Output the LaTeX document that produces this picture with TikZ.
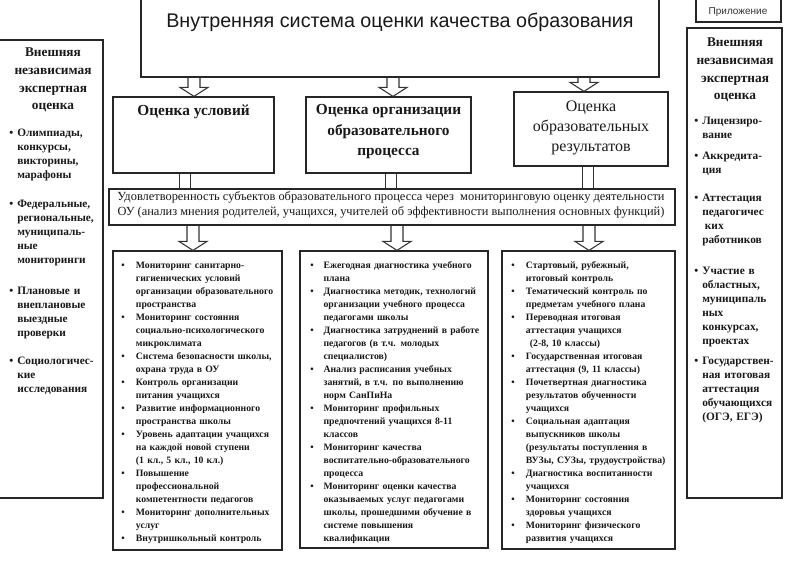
\documentclass[tikz,border=0pt]{standalone}
\usepackage{fontspec}
\setmainfont{Liberation Serif}
\newfontfamily\sansfont{Liberation Sans}
\usetikzlibrary{calc}
\tikzset{
  frame/.style={draw=black!85, line width=0.9pt, inner sep=0pt, rectangle},
  conn/.style={draw=black!80, line width=0.8pt, line join=miter},
  shaft/.style={draw=black!80, line width=0.8pt, double=white, double distance=8pt},
  headtxt/.style={font=\bfseries\fontsize{11.5}{15.4}\selectfont, align=center, inner sep=0pt, text=black!90},
  headtxtl/.style={font=\fontsize{12}{15}\selectfont, align=center, inner sep=0pt, text=black!90},
  sidehead/.style={font=\bfseries\fontsize{10}{13.2}\selectfont, align=center, inner sep=0pt, text=black!90},
  sideitem/.style={font=\bfseries\fontsize{8.5}{10.5}\selectfont, anchor=north west, align=left, inner sep=0pt, text width=68pt, text=black!90},
  listtxt/.style={font=\bfseries\fontsize{7.3}{9.75}\selectfont, anchor=north west, align=left, inner sep=0pt, text=black!90},
}
\newcommand\boxat[5]{\node[frame, minimum width={(#4-(#2))*0.75pt}, minimum height={(#5-(#3))*0.75pt}] (#1) at ({(#2+#4)/2},{(#3+#5)/2}) {};}
\newcommand\hollow[2]{\path #1 coordinate (hs) #2 coordinate (he);
 \draw[conn] ($(hs)+(-6,0)$) -- ($(he)+(-6,-9)$) -- ($(he)+(-14,-9)$) -- (he) -- ($(he)+(14,-9)$) -- ($(he)+(6,-9)$) -- ($(hs)+(6,0)$);}
\newcommand\bul[2]{\par\noindent\hangindent=#1\hangafter=1\makebox[#1][l]{\textbullet}{\let\\\newline#2}\par}
\begin{document}
\begin{tikzpicture}[x=0.75pt,y=-0.75pt]
\useasboundingbox (0,0) rectangle (788,580);
\fill[white] (0,0) rectangle (788,580);
% boxes
\boxat{title}{141}{-2}{659}{77}
\boxat{appx}{696}{-2}{781}{22}
\boxat{left}{-1}{40}{103}{498}
\boxat{right}{687}{28}{782}{498}
\boxat{b1}{113}{97}{274}{173}
\boxat{b2}{306}{97}{471}{173}
\boxat{b3}{514}{92}{668}{166}
\boxat{sat}{109}{189}{675}{225}
\boxat{la}{113}{251}{282}{550}
\boxat{lb}{300}{251}{488}{548}
\boxat{lc}{502}{251}{675}{549}
% texts
\node[font=\sansfont\fontsize{14.8}{16}\selectfont, inner sep=0pt, text=black!90] (titlet) at (400,22) {Внутренняя система оценки качества образования};
\node[font=\sansfont\fontsize{7.5}{9}\selectfont, inner sep=0pt, text=black!80] (appxt) at (738,12) {Приложение};
\node[headtxt] (b1t) at (193.5,112) {Оценка условий};
\node[headtxt] (b2t) at (388.5,132) {Оценка организации\\образовательного\\процесса};
\node[headtxtl] (b3t) at (591,128) {Оценка\\образовательных\\результатов};
\node[font=\fontsize{9.3}{11.25}\selectfont, align=center, inner sep=0pt, text=black!90] (satt) at (391,205) {Удовлетворенность субъектов образовательного процесса через~ мониторинговую оценку деятельности\\ОУ (анализ мнения родителей, учащихся, учителей об эффективности выполнения основных функций)};
% side boxes
\node[sidehead] (lefth) at (53,80) {Внешняя\\независимая\\экспертная\\оценка};
\node[sideitem] (l1) at (9,122) {\bul{6pt}{Олимпиады,\\конкурсы,\\викторины,\\марафоны}};
\node[sideitem] (l2) at (9,193) {\bul{6pt}{Федеральные,\\региональные,\\муниципаль-\\ные\\мониторинги}};
\node[sideitem] (l3) at (9,280) {\bul{6pt}{Плановые и\\внеплановые\\выездные\\проверки}};
\node[sideitem] (l4) at (9,350) {\bul{6pt}{Социологичес-\\кие\\исследования}};
\node[sidehead] (righth) at (735,70) {Внешняя\\независимая\\экспертная\\оценка};
\node[sideitem] (r1) at (694,110) {\bul{6pt}{Лицензиро-\\вание}};
\node[sideitem] (r2) at (694,145) {\bul{6pt}{Аккредита-\\ция}};
\node[sideitem] (r3) at (694,187) {\bul{6pt}{Аттестация\\педагогичес\\\hspace*{2pt}ких\\работников}};
\node[sideitem] (r4) at (694,260) {\bul{6pt}{Участие в\\областных,\\муниципаль\\ных\\конкурсах,\\проектах}};
\node[sideitem] (r5) at (694,350) {\bul{6pt}{Государствен-\\ная итоговая\\аттестация\\обучающихся\\(ОГЭ, ЕГЭ)}};
% lists
\node[listtxt, text width=120pt] (lat) at (121,255) {%
\bul{11pt}{Мониторинг санитарно-\\гигиенических условий\\организации образовательного\\пространства}
\bul{11pt}{Мониторинг состояния\\социально-психологического\\микроклимата}
\bul{11pt}{Система безопасности школы,\\охрана труда в ОУ}
\bul{11pt}{Контроль организации\\питания учащихся}
\bul{11pt}{Развитие информационного\\пространства школы}
\bul{11pt}{Уровень адаптации учащихся\\на каждой новой ступени\\(1 кл., 5 кл., 10 кл.)}
\bul{11pt}{Повышение\\профессиональной\\компетентности педагогов}
\bul{11pt}{Мониторинг дополнительных\\услуг}
\bul{11pt}{Внутришкольный контроль}};
\node[listtxt, text width=134pt] (lbt) at (310,255) {%
\bul{10pt}{Ежегодная диагностика учебного\\плана}
\bul{10pt}{Диагностика методик, технологий\\организации учебного процесса\\педагогами школы}
\bul{10pt}{Диагностика затруднений в работе\\педагогов (в т.ч. молодых\\специалистов)}
\bul{10pt}{Анализ расписания учебных\\занятий, в т.ч. по выполнению\\норм СанПиНа}
\bul{10pt}{Мониторинг профильных\\предпочтений учащихся 8-11\\классов}
\bul{10pt}{Мониторинг качества\\воспитательно-образовательного\\процесса}
\bul{10pt}{Мониторинг оценки качества\\оказываемых услуг педагогами\\школы, прошедшими обучение в\\системе повышения\\квалификации}};
\node[listtxt, text width=124pt] (lct) at (511,255) {%
\bul{11pt}{Стартовый, рубежный,\\итоговый контроль}
\bul{11pt}{Тематический контроль по\\предметам учебного плана}
\bul{11pt}{Переводная итоговая\\аттестация учащихся\\\hspace*{3pt}(2-8, 10 классы)}
\bul{11pt}{Государственная итоговая\\аттестация (9, 11 классы)}
\bul{11pt}{Почетвертная диагностика\\результатов обученности\\учащихся}
\bul{11pt}{Социальная адаптация\\выпускников школы\\(результаты поступления в\\ВУЗы, СУЗы, трудоустройства)}
\bul{11pt}{Диагностика воспитанности\\учащихся}
\bul{11pt}{Мониторинг состояния\\здоровья учащихся}
\bul{11pt}{Мониторинг физического\\развития учащихся}};
% connectors
\hollow{(194,0 |- title.south)}{(194,0 |- b1.north)}
\hollow{(393,0 |- title.south)}{(393,0 |- b2.north)}
\hollow{(584,0 |- title.south)}{(584,0 |- b3.north)}
\draw[shaft] (185,0 |- b1.south) -- (185,0 |- sat.north);
\draw[shaft] (391,0 |- b2.south) -- (391,0 |- sat.north);
\draw[shaft] (588,0 |- b3.south) -- (588,0 |- sat.north);
\hollow{(193,0 |- sat.south)}{(193,0 |- la.north)}
\hollow{(397,0 |- sat.south)}{(397,0 |- lb.north)}
\hollow{(589,0 |- sat.south)}{(589,0 |- lc.north)}
\end{tikzpicture}
\end{document}
